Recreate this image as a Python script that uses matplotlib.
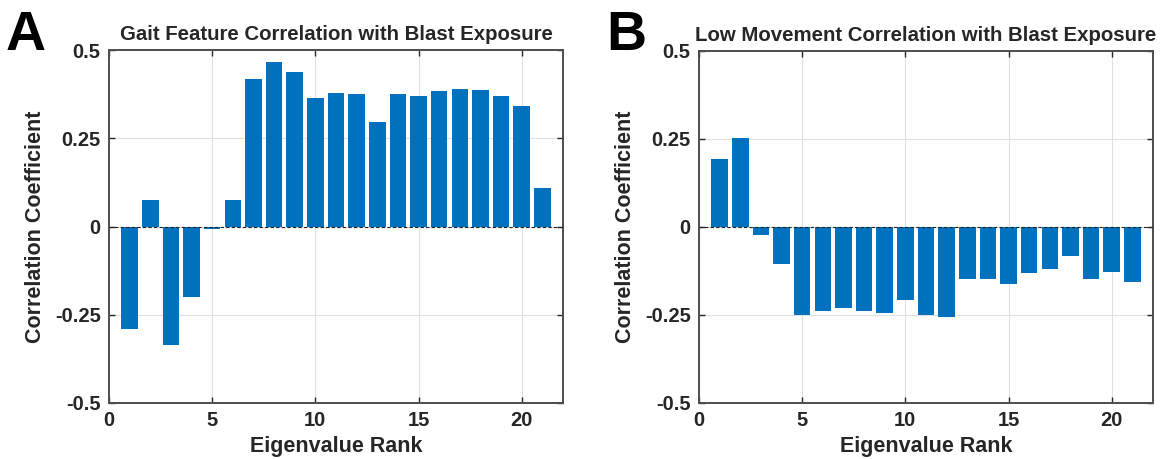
import matplotlib
matplotlib.use("Agg")
import matplotlib.pyplot as plt
import numpy as np

plt.rcParams['font.family'] = ['Liberation Sans', 'DejaVu Sans']

ranks = list(range(1, 22))
gait_corr = [-0.291, 0.075, -0.336, -0.199, -0.006, 0.074, 0.417, 0.465, 0.438,
             0.365, 0.378, 0.374, 0.297, 0.374, 0.371, 0.383, 0.390, 0.387,
             0.369, 0.342, 0.108]
lowmove_corr = [0.192, 0.252, -0.024, -0.106, -0.251, -0.238, -0.230, -0.238,
                -0.243, -0.206, -0.249, -0.256, -0.148, -0.147, -0.161, -0.130,
                -0.118, -0.083, -0.148, -0.127, -0.156]
titles = ["Gait Feature Correlation with Blast Exposure",
          "Low Movement Correlation with Blast Exposure"]
panel_letters = ["A", "B"]
yticks = [-0.5, -0.25, 0, 0.25, 0.5]
yticklabels = ["-0.5", "-0.25", "0", "0.25", "0.5"]
xticks = [0, 5, 10, 15, 20]

W, H = 1165, 459
fig = plt.figure(figsize=(W / 100, H / 100), dpi=100)

axes_px = [(109, 563, 50, 403), (699, 1153, 51, 403)]
letter_px = [(6, 50), (606, 50)]
bar_color = '#0072BD'
txt = '#262626'

for i, (vals, title) in enumerate(zip([gait_corr, lowmove_corr], titles)):
    l, r, t, b = axes_px[i]
    ax = fig.add_axes([l / W, 1 - b / H, (r - l) / W, (b - t) / H])
    ax.bar(ranks, vals, width=0.8, color=bar_color, edgecolor='none', zorder=3)
    ax.axhline(0, color='#222222', linestyle=(0, (3, 2)), linewidth=0.8, zorder=4)
    ax.set_xlim(0, 22)
    ax.set_ylim(-0.5, 0.5)
    ax.set_xticks(xticks)
    ax.set_yticks(yticks)
    ax.set_yticklabels(yticklabels)
    ax.grid(True, color='#e0e0e0', linewidth=0.8, zorder=0)
    ax.set_axisbelow(True)
    ax.tick_params(direction='in', top=True, right=True, length=4, width=1,
                   colors='#262626', labelsize=14.5, pad=6)
    for lab in ax.get_xticklabels() + ax.get_yticklabels():
        lab.set_fontweight('bold')
    for sp in ax.spines.values():
        sp.set_color('#4d4d4d')
        sp.set_linewidth(1.4)
    ax.set_title(title, fontsize=14.7, color=txt, fontweight='bold', pad=7)
    ax.set_xlabel("Eigenvalue Rank", fontsize=15.5, color=txt, fontweight='bold', labelpad=4)
    ax.set_ylabel("Correlation Coefficient", fontsize=15.5, color=txt, fontweight='bold', labelpad=6)
    lx, ly = letter_px[i]
    fig.text(lx / W, 1 - ly / H, panel_letters[i], fontsize=40, fontweight='bold',
             color='black', ha='left', va='baseline')

fig.savefig("out.png", dpi=100)
